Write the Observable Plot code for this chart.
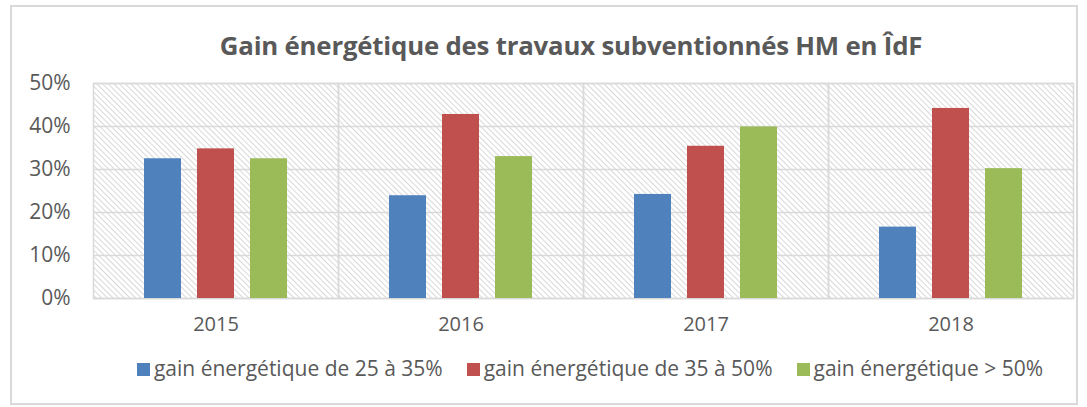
<!DOCTYPE html>
<html>
<head>
<meta charset="utf-8">
<script src="https://cdn.jsdelivr.net/npm/d3@7"></script>
<script src="https://cdn.jsdelivr.net/npm/@observablehq/plot@0.6"></script>
<style>
  body { margin: 0; background: #fff; font-family: "Open Sans", sans-serif; }
  #wrap { position: relative; width: 1087px; height: 407px; overflow: hidden; }
  #border { position: absolute; left: 10px; top: 5px; width: 1064px; height: 396px; border: 2px solid #d9d9d9; }
  #title { position: absolute; left: 0; width: 1142px; top: 27px; text-align: center; font-size: 25.8px; font-weight: bold; color: #595959; letter-spacing: -0.2px; white-space: nowrap; }
  #chart { position: absolute; left: 0; top: 0; }
  #legend { position: absolute; left: 0; width: 1180px; top: 354px; text-align: center; font-size: 21px; color: #595959; white-space: nowrap; }
  .item { display: inline-block; margin: 0 12px; }
  .sw { display: inline-block; width: 13px; height: 13px; margin-right: 4px; vertical-align: 0px; }
</style>
</head>
<body>
<svg width="0" height="0" style="position:absolute">
  <defs>
    <pattern id="hatch" patternUnits="userSpaceOnUse" width="4" height="4" patternTransform="rotate(-45)">
      <rect width="4" height="4" fill="#ffffff"></rect>
      <line x1="0" y1="0" x2="0" y2="4" stroke="#cfcfcf" stroke-width="1.6"></line>
    </pattern>
  </defs>
</svg>
<div id="wrap">
  <div id="border"></div>
  <div id="title">Gain énergétique des travaux subventionnés HM en ÎdF</div>
  <div id="chart"></div>
  <div id="legend"></div>
</div>
<script>
const years = ["2015", "2016", "2017", "2018"];
const seriesNames = ["gain énergétique de 25 à 35%", "gain énergétique de 35 à 50%", "gain énergétique > 50%"];
const gain25to35 = [0.325, 0.239, 0.242, 0.166];
const gain35to50 = [0.348, 0.428, 0.354, 0.442];
const gainOver50 = [0.325, 0.330, 0.399, 0.302];
const yTicks = [0, 0.1, 0.2, 0.3, 0.4, 0.5];
const colors = ["#4f81bd", "#c0504d", "#9bbb59"];

const seriesValues = [gain25to35, gain35to50, gainOver50];
const data = [];
years.forEach((y, i) => {
  seriesNames.forEach((s, j) => data.push({year: y, series: s, value: seriesValues[j][i]}));
});

const chart = Plot.plot({
  width: 1087,
  height: 340,
  marginLeft: 92,
  marginRight: 14,
  marginTop: 83,
  marginBottom: 42,
  style: {fontFamily: "Open Sans, sans-serif", color: "#595959", background: "transparent"},
  fx: {domain: years, padding: 0, axis: null, label: null},
  x: {domain: seriesNames, paddingInner: 0.3, paddingOuter: 0.96, axis: null},
  y: {domain: [0, 0.5], ticks: yTicks, tickFormat: d3.format(".0%"), label: null, axis: null},
  color: {domain: seriesNames, range: colors},
  marks: [
    Plot.frame({fill: "url(#hatch)", stroke: "none"}),
    Plot.ruleY(yTicks, {stroke: "#d9d9d9", strokeWidth: 1.5}),
    Plot.frame({stroke: "#d9d9d9", strokeWidth: 1.5}),
    Plot.barY(data, {fx: "year", x: "series", y: "value", fill: "series"}),
    Plot.axisY({ticks: yTicks, tickFormat: d3.format(".0%"), tickSize: 0, tickPadding: 23, fontSize: 21, fill: "#595959", label: null}),
    Plot.axisFx({anchor: "bottom", tickSize: 0, tickPadding: 18, fontSize: 20, fill: "#595959", label: null})
  ]
});
document.getElementById("chart").appendChild(chart);

const legend = document.getElementById("legend");
seriesNames.forEach((s, j) => {
  const it = document.createElement("span");
  it.className = "item";
  const sw = document.createElement("span");
  sw.className = "sw";
  sw.style.background = colors[j];
  it.appendChild(sw);
  it.appendChild(document.createTextNode(s));
  legend.appendChild(it);
});
</script>
</body>
</html>
